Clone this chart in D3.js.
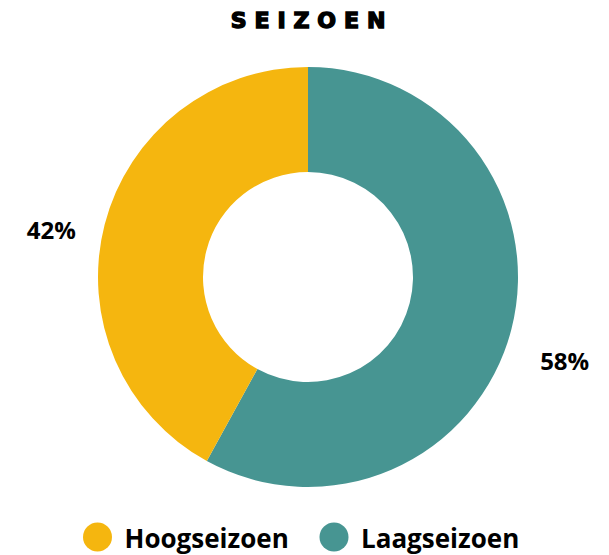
<!DOCTYPE html>
<html>
<head>
<meta charset="utf-8">
<script src="https://cdn.jsdelivr.net/npm/d3@7"></script>
<style>
  body { margin: 0; background: #fff; }
  svg { display: block; }
</style>
</head>
<body>
<script>
// data
const seasons = ["Laagseizoen", "Hoogseizoen"];
const shares = [58, 42];
const legendOrder = ["Hoogseizoen", "Laagseizoen"];
// ----------
const w = 609;
const h = 555;
const c = { x: 308, y: 277 };
const colors = d3.scaleOrdinal().domain(seasons).range(["#479592", "#F5B60F"]);
// ----------

const svg = d3.select("body").append("svg").attr("width", w).attr("height", h);

// title
svg.append("text")
  .text("SEIZOEN")
  .attr("x", 312)
  .attr("y", 28)
  .attr("text-anchor", "middle")
  .attr("font-family", "'DejaVu Sans', sans-serif")
  .attr("font-weight", 900)
  .attr("font-size", 21)
  .attr("letter-spacing", 7.5)
  .attr("fill", "#000")
  .attr("stroke", "#000")
  .attr("stroke-width", 1.4)
  .attr("transform", "translate(312, 0) scale(1.05, 1) translate(-312, 0)");

// donut
const pie = d3.pie().sort(null).value((d) => d.v);
const arcs = pie(seasons.map((s, i) => ({ s, v: shares[i] })));
const arc = d3.arc().innerRadius(105).outerRadius(210);
const labelArc = d3.arc().innerRadius(265).outerRadius(265);

const g = svg.append("g").attr("transform", `translate(${c.x}, ${c.y})`);

g.selectAll("path")
  .data(arcs)
  .enter()
  .append("path")
  .attr("d", arc)
  .attr("fill", (d) => colors(d.data.s));

g.selectAll("text")
  .data(arcs)
  .enter()
  .append("text")
  .text((d) => `${d.data.v}%`)
  .attr("transform", (d) => {
    const [x, y] = labelArc.centroid(d);
    return `translate(${x}, ${y + 18})`;
  })
  .attr("text-anchor", "middle")
  .attr("dominant-baseline", "central")
  .attr("font-family", "'Open Sans', sans-serif")
  .attr("font-weight", 700)
  .attr("font-size", 24)
  .attr("fill", "#000");

// legend
const legX = d3.scalePoint().domain(legendOrder).range([97.5, 334]);
const leg = svg.append("g").selectAll("g")
  .data(legendOrder)
  .enter()
  .append("g")
  .attr("transform", (d) => `translate(${legX(d)}, 537)`);

leg.append("circle").attr("r", 14.5).attr("fill", (d) => colors(d));
leg.append("text")
  .text((d) => d)
  .attr("x", 27)
  .attr("y", 11)
  .attr("font-family", "'Open Sans', sans-serif")
  .attr("font-weight", 700)
  .attr("font-size", 26)
  .attr("fill", "#000");
</script>
</body>
</html>
